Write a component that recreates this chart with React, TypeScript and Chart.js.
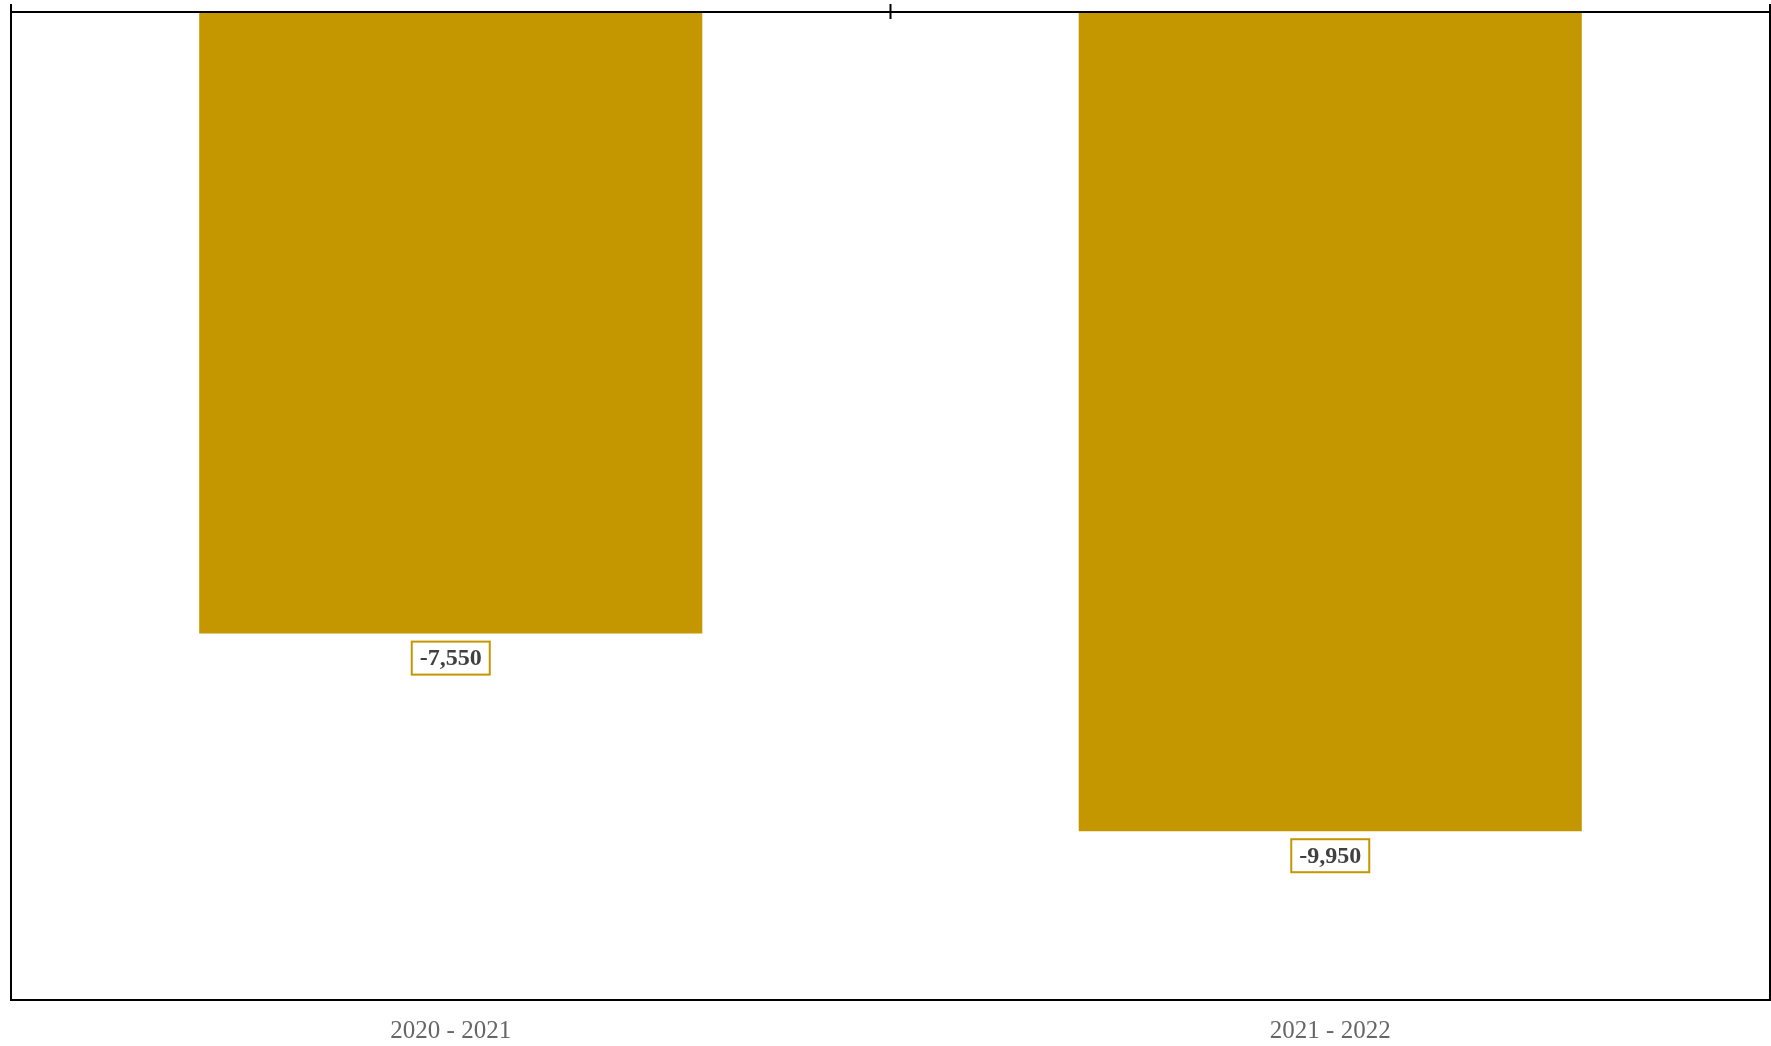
import React, { useEffect, useRef } from "react";
import { Chart, registerables } from "chart.js";

Chart.register(...registerables);

const categories: string[] = ["2020 - 2021", "2021 - 2022"];
const values: number[] = [-7550, -9950];
const yMin = -12000;
const yMax = 0;

const BAR_COLOR = "#C49600";

const framePlugin = {
  id: "frameLines",
  afterDraw(chart: any) {
    const { ctx, chartArea } = chart;
    const { left, right, bottom } = chartArea;
    const yScale = chart.scales.y;
    const xScale = chart.scales.x;
    const y0 = yScale.getPixelForValue(0);
    ctx.save();
    ctx.strokeStyle = "#000";
    ctx.lineWidth = 2;
    ctx.beginPath();
    ctx.moveTo(left, y0);
    ctx.lineTo(right, y0);
    ctx.moveTo(left, bottom);
    ctx.lineTo(right, bottom);
    ctx.moveTo(left, y0 - 8);
    ctx.lineTo(left, bottom + 1);
    ctx.moveTo(right, y0 - 8);
    ctx.lineTo(right, bottom + 1);
    const mid = xScale.getPixelForValue(0.5);
    ctx.moveTo(mid, y0 - 8);
    ctx.lineTo(mid, y0 + 7);
    ctx.stroke();
    ctx.restore();
  },
};

const labelPlugin = {
  id: "valueLabels",
  afterDatasetsDraw(chart: any) {
    const { ctx } = chart;
    const meta = chart.getDatasetMeta(0);
    ctx.save();
    ctx.font = "bold 24px 'Liberation Serif', serif";
    ctx.textAlign = "center";
    ctx.textBaseline = "middle";
    meta.data.forEach((bar: any, i: number) => {
      const v = chart.data.datasets[0].data[i] as number;
      const text = v.toLocaleString("en-US");
      const w = ctx.measureText(text).width + 16;
      const h = 33;
      const top = bar.y + 8;
      ctx.fillStyle = "#fff";
      ctx.fillRect(bar.x - w / 2, top, w, h);
      ctx.strokeStyle = BAR_COLOR;
      ctx.lineWidth = 2;
      ctx.strokeRect(bar.x - w / 2, top, w, h);
      ctx.fillStyle = "#404040";
      ctx.fillText(text, bar.x, top + h / 2 + 1);
    });
    ctx.restore();
  },
};

export default function App() {
  const canvasRef = useRef<HTMLCanvasElement | null>(null);

  useEffect(() => {
    document.body.style.margin = "0";
    if (!canvasRef.current) return;
    const chart = new Chart(canvasRef.current, {
      type: "bar",
      data: {
        labels: categories,
        datasets: [
          {
            data: values,
            backgroundColor: BAR_COLOR,
            borderWidth: 0,
            barPercentage: 0.572,
            categoryPercentage: 1.0,
          },
        ],
      },
      options: {
        animation: false,
        responsive: true,
        maintainAspectRatio: false,
        layout: { padding: { left: 11, top: 12, right: 1, bottom: 0 } },
        plugins: {
          legend: { display: false },
          tooltip: { enabled: false },
        },
        scales: {
          x: {
            position: "bottom",
            grid: { display: false, drawTicks: false },
            border: { display: false },
            ticks: {
              color: "#666",
              padding: 16,
              font: { family: "'Liberation Serif', serif", size: 25 },
            },
            afterFit: (scale: any) => {
              scale.height = 46;
            },
          },
          y: {
            min: yMin,
            max: yMax,
            display: false,
          },
        },
      },
      plugins: [labelPlugin, framePlugin],
    });
    return () => chart.destroy();
  }, []);

  return (
    <div style={{ width: "1771px", height: "1046px", position: "relative" }}>
      <canvas ref={canvasRef} />
    </div>
  );
}
